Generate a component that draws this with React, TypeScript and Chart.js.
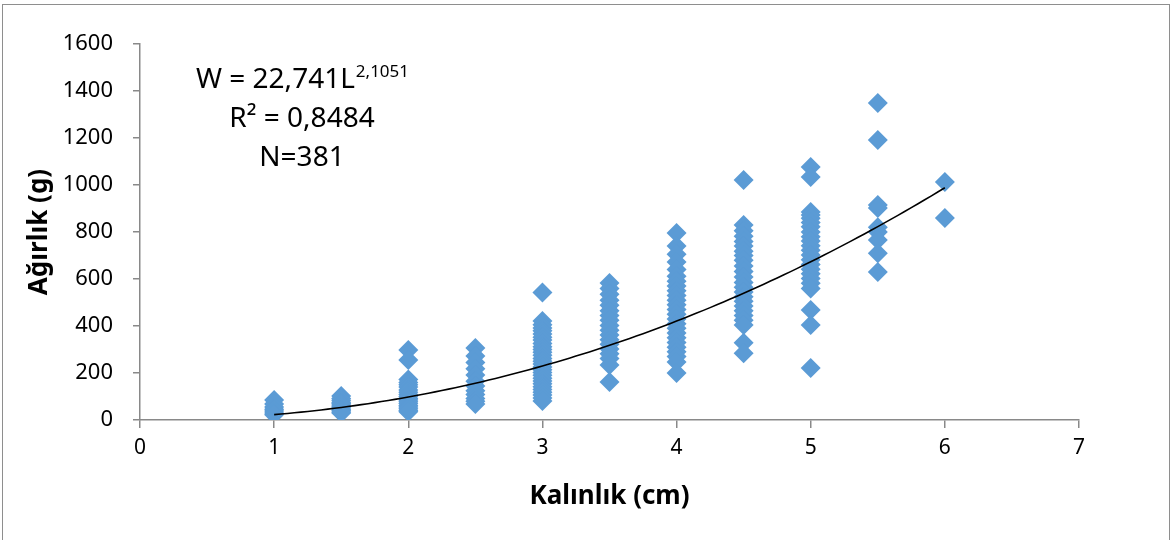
import React, { useEffect, useRef } from "react";
import { Chart, registerables } from "chart.js";

Chart.register(...registerables);

// Thickness classes (cm) and the weights (g) read at each class
const thicknessClasses = [1, 1.5, 2, 2.5, 3, 3.5, 4, 4.5, 5, 5.5, 6];
const weightsL10 = [85, 68, 55, 46, 38, 30, 22];
const weightsL15 = [102, 92, 84, 76, 70, 64, 58, 52, 46, 40, 34, 30];
const weightsL20 = [298, 255, 172, 160, 150, 140, 128, 118, 108, 100, 92, 85, 78, 70, 62, 55, 48, 40, 35];
const weightsL25 = [306, 272, 245, 218, 192, 165, 145, 125, 108, 92, 80, 68];
const weightsL30 = [543, 421, 405, 392, 380, 366, 352, 340, 326, 312, 300, 288, 276, 262, 250, 238, 226, 214, 202, 190, 178, 166, 154, 142, 130, 118, 106, 94, 81];
const weightsL35 = [583, 560, 535, 510, 488, 465, 445, 425, 402, 382, 362, 342, 322, 302, 282, 262, 234, 162];
const weightsL40 = [796, 740, 705, 672, 640, 612, 590, 570, 550, 530, 510, 490, 470, 450, 430, 410, 390, 370, 350, 330, 310, 290, 270, 247, 200];
const weightsL45 = [1021, 830, 805, 782, 760, 740, 718, 700, 680, 655, 632, 608, 585, 565, 545, 525, 505, 485, 465, 445, 425, 404, 329, 284];
const weightsL50 = [1077, 1034, 885, 872, 858, 840, 822, 800, 780, 762, 742, 722, 702, 682, 662, 642, 622, 602, 582, 560, 468, 404, 221];
const weightsL55 = [1349, 1191, 915, 902, 820, 800, 766, 710, 630];
const weightsL60 = [1013, 860];

const weightGroups = [weightsL10, weightsL15, weightsL20, weightsL25, weightsL30, weightsL35, weightsL40, weightsL45, weightsL50, weightsL55, weightsL60];

// Power trend line as printed on the chart: W = 22,741 L^2,1051
const trendA = 22.741;
const trendB = 2.1051;
const trendStart = 1;
const trendEnd = 6;

const xTicks = [0, 1, 2, 3, 4, 5, 6, 7];
const yTicks = [0, 200, 400, 600, 800, 1000, 1200, 1400, 1600];

const equationLines = ["W = 22,741L", "R² = 0,8484", "N=381"];
const equationExponent = "2,1051";

const FONT = "'Noto Sans', 'DejaVu Sans', sans-serif";

export default function App() {
  const canvasRef = useRef<HTMLCanvasElement | null>(null);

  useEffect(() => {
    const canvas = canvasRef.current;
    if (!canvas) return;

    const points: { x: number; y: number }[] = [];
    thicknessClasses.forEach((L, i) => {
      weightGroups[i].forEach((w) => points.push({ x: L, y: w }));
    });

    const trend: { x: number; y: number }[] = [];
    for (let k = 0; k <= 100; k++) {
      const L = trendStart + ((trendEnd - trendStart) * k) / 100;
      trend.push({ x: L, y: trendA * Math.pow(L, trendB) });
    }

    const equationPlugin = {
      id: "equationText",
      afterDraw(chart: any) {
        const ctx = chart.ctx as CanvasRenderingContext2D;
        const cx = 302;
        ctx.save();
        ctx.fillStyle = "#000";
        ctx.textBaseline = "alphabetic";
        ctx.font = `28px ${FONT}`;
        const mainW = ctx.measureText(equationLines[0]).width;
        ctx.font = `17px ${FONT}`;
        const supW = ctx.measureText(equationExponent).width;
        const startX = cx - (mainW + supW) / 2;
        ctx.textAlign = "left";
        ctx.font = `28px ${FONT}`;
        ctx.fillText(equationLines[0], startX, 88);
        ctx.font = `17px ${FONT}`;
        ctx.fillText(equationExponent, startX + mainW + 1, 77);
        ctx.textAlign = "center";
        ctx.font = `28px ${FONT}`;
        ctx.fillText(equationLines[1], cx, 127);
        ctx.fillText(equationLines[2], cx, 166);
        ctx.restore();
      },
    };

    const axisColor = "#898989";

    const chart = new Chart(canvas, {
      type: "scatter",
      data: {
        datasets: [
          {
            type: "line",
            label: "Trend",
            data: trend,
            borderColor: "#000000",
            borderWidth: 1.6,
            pointRadius: 0,
            fill: false,
            tension: 0,
            order: 0,
          } as any,
          {
            label: "Ağırlık",
            data: points,
            pointStyle: "rectRot",
            pointRadius: 10,
            pointHoverRadius: 10,
            backgroundColor: "#5B9BD5",
            borderColor: "#5B9BD5",
            borderWidth: 0,
            order: 1,
          },
        ],
      },
      options: {
        responsive: false,
        animation: false,
        layout: { padding: { top: 44, right: 97, left: 0, bottom: 0 } },
        plugins: {
          legend: { display: false },
          tooltip: { enabled: false },
        },
        scales: {
          x: {
            type: "linear",
            min: 0,
            max: 7,
            afterBuildTicks: (scale: any) => {
              scale.ticks = xTicks.map((v) => ({ value: v }));
            },
            afterFit: (scale: any) => {
              scale.height = 120;
            },
            ticks: {
              color: "#000",
              font: { family: FONT, size: 21 },
              padding: 7,
              maxRotation: 0,
              callback: (v: any) => String(v),
            },
            grid: {
              display: true,
              drawOnChartArea: false,
              drawTicks: true,
              tickLength: 8,
              color: axisColor,
              lineWidth: 1.5,
            },
            border: { display: true, color: axisColor, width: 1.5 },
            title: {
              display: true,
              text: "Kalınlık (cm)",
              color: "#000",
              font: { family: FONT, size: 26, weight: "bold" },
              padding: { top: 0, bottom: 28 },
            },
          },
          y: {
            type: "linear",
            min: 0,
            max: 1600,
            afterBuildTicks: (scale: any) => {
              scale.ticks = yTicks.map((v) => ({ value: v }));
            },
            afterFit: (scale: any) => {
              scale.width = 140;
            },
            ticks: {
              color: "#000",
              font: { family: FONT, size: 22 },
              padding: 20,
              callback: (v: any) => String(v),
            },
            grid: {
              display: true,
              drawOnChartArea: false,
              drawTicks: true,
              tickLength: 7,
              color: axisColor,
              lineWidth: 1.5,
            },
            border: { display: true, color: axisColor, width: 1.5 },
            title: {
              display: true,
              text: "Ağırlık (g)",
              color: "#000",
              font: { family: FONT, size: 26, weight: "bold" },
              padding: { top: 24, bottom: 0 },
            },
          },
        },
      },
      plugins: [equationPlugin],
    } as any);

    return () => chart.destroy();
  }, []);

  return (
    <div
      style={{
        position: "fixed",
        left: 0,
        top: 0,
        width: 1176,
        height: 540,
        overflow: "hidden",
        background: "#ffffff",
      }}
    >
      <div
        style={{
          position: "absolute",
          left: 2,
          top: 4,
          width: 1168,
          height: 600,
          border: "1px solid #8e8e8e",
          boxSizing: "border-box",
        }}
      />
      <canvas
        ref={canvasRef}
        width={1176}
        height={540}
        style={{ position: "absolute", left: 0, top: 0, width: 1176, height: 540 }}
      />
    </div>
  );
}
